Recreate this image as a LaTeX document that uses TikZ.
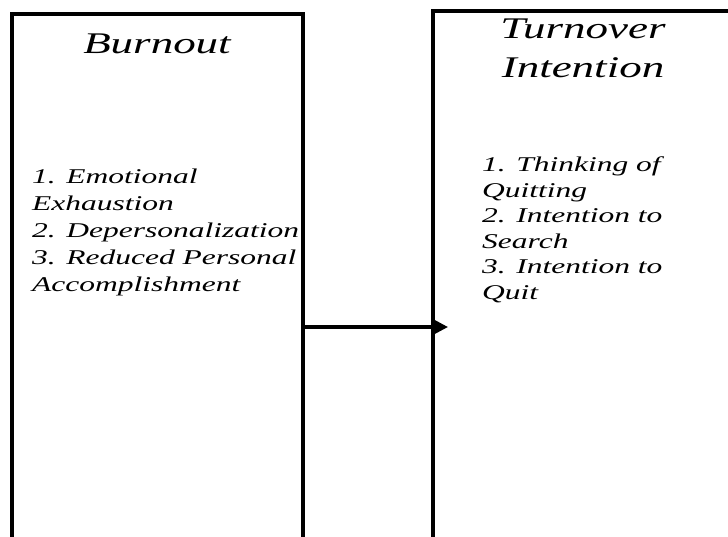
\documentclass[tikz,border=0pt]{standalone}
\usepackage{fontspec}
\newfontfamily\widefont{Liberation Serif}[FakeStretch=1.5]
\usetikzlibrary{arrows.meta}
\tikzset{
  box/.style={draw=black, line width=3.4pt, rectangle, inner sep=0pt},
  titletext/.style={font=\widefont\itshape\fontsize{30}{39}\selectfont, align=center, inner sep=0pt},
  bodytext/.style={font=\widefont\itshape\fontsize{21}{27}\selectfont, align=left, inner sep=0pt},
  arrowline/.style={line width=3.4pt, -{Triangle[length=16pt,width=16pt]}}
}
\begin{document}
\begin{tikzpicture}[x=1pt,y=-1pt]
\useasboundingbox (0,0) rectangle (728,536);
\clip (0,0) rectangle (728,536);
\fill[white] (0,0) rectangle (728,536);
\node[box, minimum width=291pt, minimum height=546pt] (L) at (157.5,287) {};
\node[box, minimum width=300pt, minimum height=549pt] (R) at (583,285.5) {};
\node[titletext, anchor=base] (Lt) at (157,53) {Burnout};
\node[titletext, anchor=base] (Rt) at (583,77) {Turnover\\Intention};
\node[bodytext, anchor=north west] (Lb) at (32,169) {1. Emotional\\Exhaustion\\2. Depersonalization\\3. Reduced Personal\\Accomplishment};
\node[bodytext, anchor=north west, font=\widefont\itshape\fontsize{21}{25.5}\selectfont] (Rb) at (482,157) {1. Thinking of\\Quitting\\2. Intention to\\Search\\3. Intention to\\Quit};
\coordinate (tip) at (448,327);
\draw[arrowline] (L.east |- tip) -- (tip);
\end{tikzpicture}
\end{document}
